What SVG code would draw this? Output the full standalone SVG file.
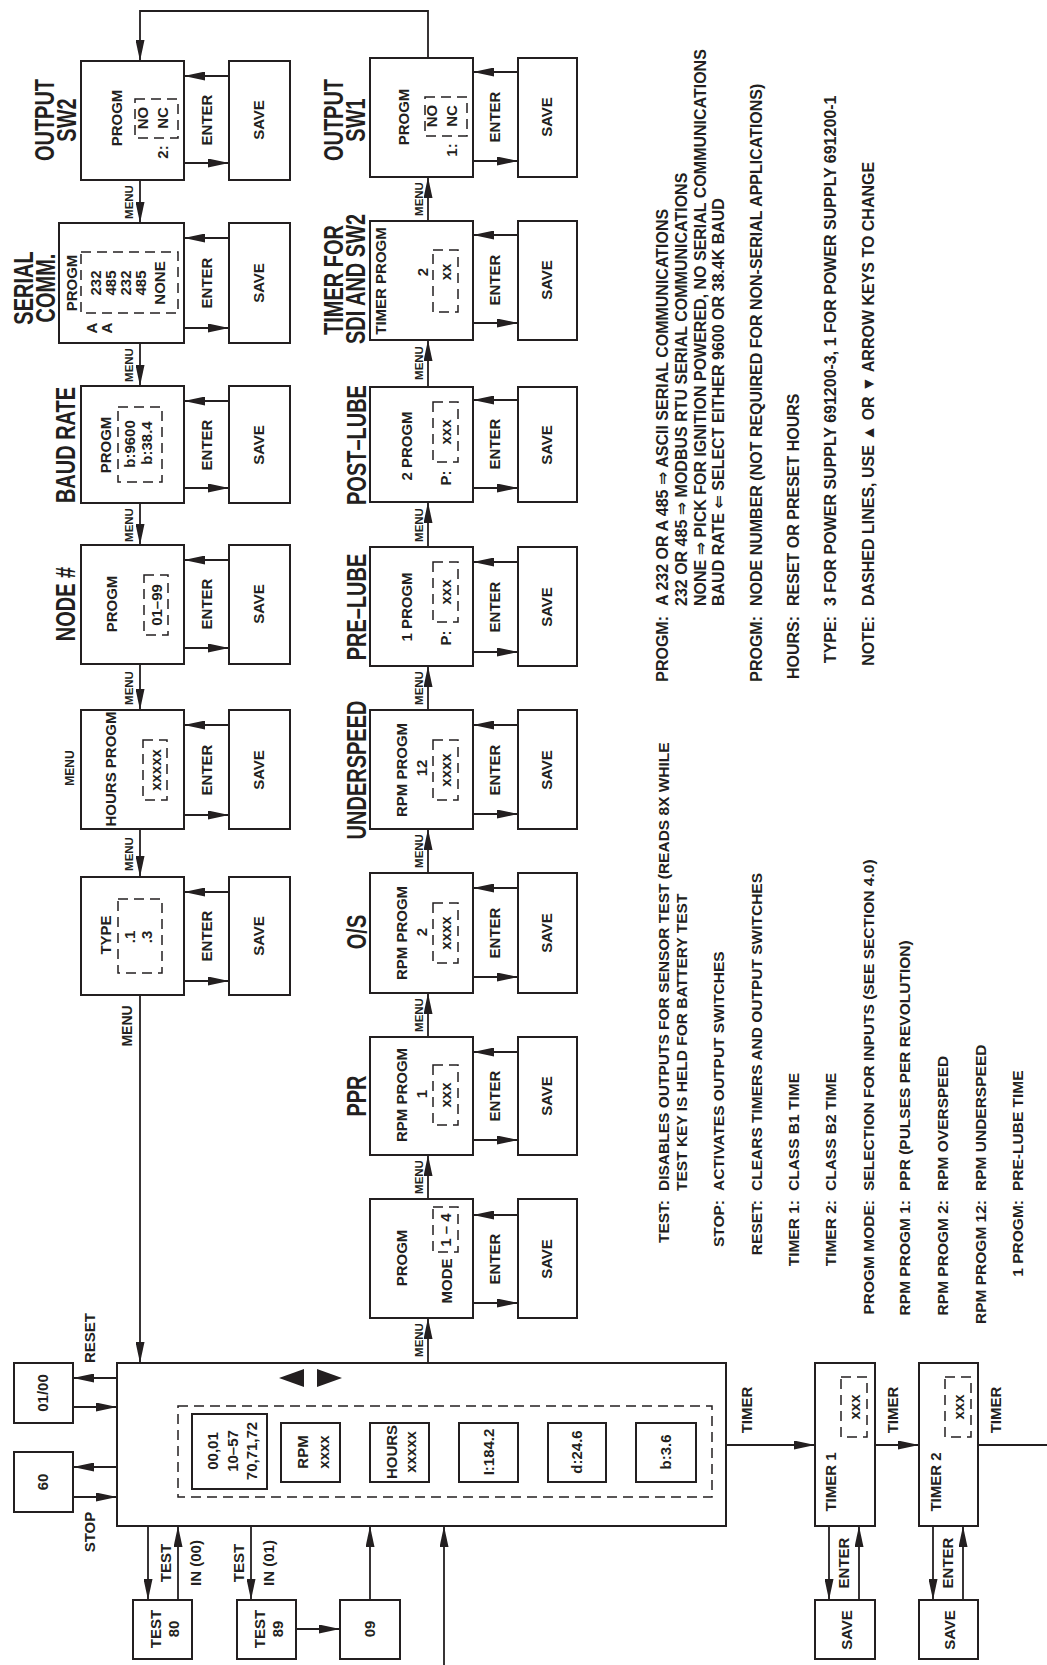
<svg xmlns="http://www.w3.org/2000/svg" width="1047" height="1665" viewBox="0 0 1047 1665">
<style>
.bx{fill:#fff;stroke:#231f20;stroke-width:2}
.ds{fill:none;stroke:#231f20;stroke-width:1.5;stroke-dasharray:10 6}
.ln{fill:none;stroke:#231f20;stroke-width:1.8}
.tri{fill:#231f20}
text{font-family:"Liberation Sans",Arial,"DejaVu Sans",sans-serif;font-weight:bold;fill:#231f20}
.m{font-size:15px;text-anchor:middle}
.s{font-size:11.5px;text-anchor:middle}
.h{font-size:27px;text-anchor:middle}
.n{font-size:15.5px}
.r{font-size:15.5px;text-anchor:end}
.nu{font-size:16px}
.ru{font-size:16px;text-anchor:end}
</style>
<defs>
<marker id="a" viewBox="0 0 21 9" refX="21" refY="4.5" markerWidth="21" markerHeight="9" markerUnits="userSpaceOnUse" orient="auto"><path d="M0,0L21,4.5L0,9z" fill="#231f20"/></marker>
</defs>
<rect width="1047" height="1665" fill="#fff"/>

<g id="connectors" class="ln">
<polyline points="428,58 428,11 140,11 140,61" marker-end="url(#a)"/>
<line x1="140" y1="180" x2="140" y2="223" marker-end="url(#a)"/>
<line x1="140" y1="343" x2="140" y2="386" marker-end="url(#a)"/>
<line x1="140" y1="503" x2="140" y2="545" marker-end="url(#a)"/>
<line x1="140" y1="664" x2="140" y2="710" marker-end="url(#a)"/>
<line x1="140" y1="829" x2="140" y2="877" marker-end="url(#a)"/>
<line x1="140" y1="995" x2="140" y2="1363" marker-end="url(#a)"/>
<line x1="428" y1="221" x2="428" y2="177" marker-end="url(#a)"/>
<line x1="428" y1="387" x2="428" y2="340" marker-end="url(#a)"/>
<line x1="428" y1="547" x2="428" y2="502" marker-end="url(#a)"/>
<line x1="428" y1="710" x2="428" y2="666" marker-end="url(#a)"/>
<line x1="428" y1="873" x2="428" y2="829" marker-end="url(#a)"/>
<line x1="428" y1="1037" x2="428" y2="993" marker-end="url(#a)"/>
<line x1="428" y1="1199" x2="428" y2="1155" marker-end="url(#a)"/>
<line x1="428" y1="1363" x2="428" y2="1318" marker-end="url(#a)"/>
<line x1="229" y1="76" x2="184" y2="76" marker-end="url(#a)"/>
<line x1="184" y1="163" x2="229" y2="163" marker-end="url(#a)"/>
<line x1="229" y1="238" x2="184" y2="238" marker-end="url(#a)"/>
<line x1="184" y1="328" x2="229" y2="328" marker-end="url(#a)"/>
<line x1="229" y1="401" x2="184" y2="401" marker-end="url(#a)"/>
<line x1="184" y1="488" x2="229" y2="488" marker-end="url(#a)"/>
<line x1="229" y1="560" x2="184" y2="560" marker-end="url(#a)"/>
<line x1="184" y1="648" x2="229" y2="648" marker-end="url(#a)"/>
<line x1="229" y1="725" x2="184" y2="725" marker-end="url(#a)"/>
<line x1="184" y1="815" x2="229" y2="815" marker-end="url(#a)"/>
<line x1="229" y1="892" x2="184" y2="892" marker-end="url(#a)"/>
<line x1="184" y1="981" x2="229" y2="981" marker-end="url(#a)"/>
<line x1="518" y1="72" x2="473" y2="72" marker-end="url(#a)"/>
<line x1="473" y1="161" x2="518" y2="161" marker-end="url(#a)"/>
<line x1="518" y1="235" x2="473" y2="235" marker-end="url(#a)"/>
<line x1="473" y1="323" x2="518" y2="323" marker-end="url(#a)"/>
<line x1="518" y1="400" x2="473" y2="400" marker-end="url(#a)"/>
<line x1="473" y1="488" x2="518" y2="488" marker-end="url(#a)"/>
<line x1="518" y1="562" x2="473" y2="562" marker-end="url(#a)"/>
<line x1="473" y1="652" x2="518" y2="652" marker-end="url(#a)"/>
<line x1="518" y1="725" x2="473" y2="725" marker-end="url(#a)"/>
<line x1="473" y1="814" x2="518" y2="814" marker-end="url(#a)"/>
<line x1="518" y1="888" x2="473" y2="888" marker-end="url(#a)"/>
<line x1="473" y1="977" x2="518" y2="977" marker-end="url(#a)"/>
<line x1="518" y1="1052" x2="473" y2="1052" marker-end="url(#a)"/>
<line x1="473" y1="1140" x2="518" y2="1140" marker-end="url(#a)"/>
<line x1="518" y1="1215" x2="473" y2="1215" marker-end="url(#a)"/>
<line x1="473" y1="1303" x2="518" y2="1303" marker-end="url(#a)"/>
<line x1="117" y1="1378" x2="73" y2="1378" marker-end="url(#a)"/>
<line x1="73" y1="1407" x2="117" y2="1407" marker-end="url(#a)"/>
<line x1="117" y1="1467" x2="73" y2="1467" marker-end="url(#a)"/>
<line x1="73" y1="1497" x2="117" y2="1497" marker-end="url(#a)"/>
<line x1="148" y1="1526" x2="148" y2="1600" marker-end="url(#a)"/>
<line x1="178" y1="1600" x2="178" y2="1526" marker-end="url(#a)"/>
<line x1="251" y1="1526" x2="251" y2="1600" marker-end="url(#a)"/>
<line x1="296" y1="1629" x2="340" y2="1629" marker-end="url(#a)"/>
<line x1="370" y1="1600" x2="370" y2="1526" marker-end="url(#a)"/>
<line x1="444" y1="1665" x2="444" y2="1526" marker-end="url(#a)"/>
<line x1="726" y1="1445" x2="815" y2="1445" marker-end="url(#a)"/>
<line x1="875" y1="1445" x2="919" y2="1445" marker-end="url(#a)"/>
<line x1="978" y1="1445" x2="1047" y2="1445"/>
<line x1="829" y1="1526" x2="829" y2="1600" marker-end="url(#a)"/>
<line x1="859" y1="1600" x2="859" y2="1526" marker-end="url(#a)"/>
<line x1="933" y1="1526" x2="933" y2="1600" marker-end="url(#a)"/>
<line x1="963" y1="1600" x2="963" y2="1526" marker-end="url(#a)"/>
</g>

<g id="connector-labels">
<text class="s" transform="translate(129,202) rotate(-90)" dy=".36em">MENU</text>
<text class="s" transform="translate(129,365) rotate(-90)" dy=".36em">MENU</text>
<text class="s" transform="translate(129,525) rotate(-90)" dy=".36em">MENU</text>
<text class="s" transform="translate(129,688) rotate(-90)" dy=".36em">MENU</text>
<text class="s" transform="translate(129,854) rotate(-90)" dy=".36em">MENU</text>
<text class="m" style="font-size:14px" transform="translate(127,1026) rotate(-90)" dy=".36em">MENU</text>
<text class="s" style="font-size:12px" transform="translate(70,768) rotate(-90)" dy=".36em">MENU</text>
<text class="s" transform="translate(419,199) rotate(-90)" dy=".36em">MENU</text>
<text class="s" transform="translate(419,363) rotate(-90)" dy=".36em">MENU</text>
<text class="s" transform="translate(419,525) rotate(-90)" dy=".36em">MENU</text>
<text class="s" transform="translate(419,688) rotate(-90)" dy=".36em">MENU</text>
<text class="s" transform="translate(419,851) rotate(-90)" dy=".36em">MENU</text>
<text class="s" transform="translate(419,1015) rotate(-90)" dy=".36em">MENU</text>
<text class="s" transform="translate(419,1177) rotate(-90)" dy=".36em">MENU</text>
<text class="s" transform="translate(419,1340) rotate(-90)" dy=".36em">MENU</text>
<text class="m" transform="translate(207,120) rotate(-90)" dy=".36em">ENTER</text>
<text class="m" transform="translate(207,283) rotate(-90)" dy=".36em">ENTER</text>
<text class="m" transform="translate(207,445) rotate(-90)" dy=".36em">ENTER</text>
<text class="m" transform="translate(207,604) rotate(-90)" dy=".36em">ENTER</text>
<text class="m" transform="translate(207,770) rotate(-90)" dy=".36em">ENTER</text>
<text class="m" transform="translate(207,936) rotate(-90)" dy=".36em">ENTER</text>
<text class="m" transform="translate(495,117) rotate(-90)" dy=".36em">ENTER</text>
<text class="m" transform="translate(495,280) rotate(-90)" dy=".36em">ENTER</text>
<text class="m" transform="translate(495,444) rotate(-90)" dy=".36em">ENTER</text>
<text class="m" transform="translate(495,607) rotate(-90)" dy=".36em">ENTER</text>
<text class="m" transform="translate(495,770) rotate(-90)" dy=".36em">ENTER</text>
<text class="m" transform="translate(495,933) rotate(-90)" dy=".36em">ENTER</text>
<text class="m" transform="translate(495,1096) rotate(-90)" dy=".36em">ENTER</text>
<text class="m" transform="translate(495,1259) rotate(-90)" dy=".36em">ENTER</text>
<text class="m" transform="translate(90,1338) rotate(-90)" dy=".36em">RESET</text>
<text class="m" transform="translate(90,1532) rotate(-90)" dy=".36em">STOP</text>
<text class="m" transform="translate(166,1563) rotate(-90)" dy=".36em">TEST</text>
<text class="m" transform="translate(196,1563) rotate(-90)" dy=".36em">IN (00)</text>
<text class="m" transform="translate(239,1563) rotate(-90)" dy=".36em">TEST</text>
<text class="m" transform="translate(269,1563) rotate(-90)" dy=".36em">IN (01)</text>
<text class="m" transform="translate(747,1410) rotate(-90)" dy=".36em">TIMER</text>
<text class="m" transform="translate(893,1410) rotate(-90)" dy=".36em">TIMER</text>
<text class="m" transform="translate(996,1410) rotate(-90)" dy=".36em">TIMER</text>
<text class="m" transform="translate(844,1563) rotate(-90)" dy=".36em">ENTER</text>
<text class="m" transform="translate(948,1563) rotate(-90)" dy=".36em">ENTER</text>
</g>

<g id="output-sw2">
<rect class="bx" x="81" y="61" width="103" height="119"/>
<text class="h" transform="translate(44,120) rotate(-90) scale(.74,1)" dy=".36em">OUTPUT</text>
<text class="h" transform="translate(66,120) rotate(-90) scale(.74,1)" dy=".36em">SW2</text>
<text class="m" transform="translate(117,118) rotate(-90)" dy=".36em">PROGM</text>
<rect class="ds" x="135" y="99" width="43" height="39"/>
<text class="m" transform="translate(143,118) rotate(-90)" dy=".36em">NO</text>
<text class="m" transform="translate(163,118) rotate(-90)" dy=".36em">NC</text>
<text class="m" transform="translate(163,152) rotate(-90)" dy=".36em">2:</text>
</g>
<g id="save-sw2"><rect class="bx" x="229" y="61" width="61" height="119"/><text class="m" transform="translate(259,120) rotate(-90)" dy=".36em">SAVE</text></g>

<g id="serial-comm">
<rect class="bx" x="59" y="223" width="125" height="120"/>
<text class="h" transform="translate(23,288) rotate(-90) scale(.74,1)" dy=".36em">SERIAL</text>
<text class="h" transform="translate(45,288) rotate(-90) scale(.74,1)" dy=".36em">COMM.</text>
<text class="m" transform="translate(72,283) rotate(-90)" dy=".36em">PROGM</text>
<rect class="ds" x="81" y="252" width="97" height="61"/>
<text class="m" transform="translate(96,283) rotate(-90)" dy=".36em">232</text>
<text class="m" transform="translate(111,283) rotate(-90)" dy=".36em">485</text>
<text class="m" transform="translate(126,283) rotate(-90)" dy=".36em">232</text>
<text class="m" transform="translate(141,283) rotate(-90)" dy=".36em">485</text>
<text class="m" transform="translate(160,283) rotate(-90)" dy=".36em">NONE</text>
<text class="m" transform="translate(92,328) rotate(-90)" dy=".36em">A</text>
<text class="m" transform="translate(107,328) rotate(-90)" dy=".36em">A</text>
</g>
<g id="save-serial"><rect class="bx" x="229" y="223" width="61" height="120"/><text class="m" transform="translate(259,283) rotate(-90)" dy=".36em">SAVE</text></g>

<g id="baud-rate">
<rect class="bx" x="81" y="386" width="103" height="117"/>
<text class="h" transform="translate(65,445) rotate(-90) scale(.74,1)" dy=".36em">BAUD RATE</text>
<text class="m" transform="translate(106,445) rotate(-90)" dy=".36em">PROGM</text>
<rect class="ds" x="118" y="407" width="44" height="75"/>
<text class="m" transform="translate(130,444) rotate(-90)" dy=".36em">b:9600</text>
<text class="m" transform="translate(147,443) rotate(-90)" dy=".36em">b:38.4</text>
</g>
<g id="save-baud"><rect class="bx" x="229" y="386" width="61" height="117"/><text class="m" transform="translate(259,445) rotate(-90)" dy=".36em">SAVE</text></g>

<g id="node-number">
<rect class="bx" x="81" y="545" width="103" height="119"/>
<text class="h" transform="translate(65,604) rotate(-90) scale(.74,1)" dy=".36em">NODE #</text>
<text class="m" transform="translate(112,604) rotate(-90)" dy=".36em">PROGM</text>
<rect class="ds" x="144" y="575" width="24" height="60"/>
<text class="m" transform="translate(157,605) rotate(-90)" dy=".36em">01–99</text>
</g>
<g id="save-node"><rect class="bx" x="229" y="545" width="61" height="119"/><text class="m" transform="translate(259,604) rotate(-90)" dy=".36em">SAVE</text></g>

<g id="hours-progm">
<rect class="bx" x="81" y="710" width="103" height="119"/>
<text class="m" transform="translate(111,769) rotate(-90)" dy=".36em">HOURS PROGM</text>
<rect class="ds" x="143" y="740" width="24" height="60"/>
<text class="m" transform="translate(156,770) rotate(-90)" dy=".36em">xxxxx</text>
</g>
<g id="save-hours"><rect class="bx" x="229" y="710" width="61" height="119"/><text class="m" transform="translate(259,770) rotate(-90)" dy=".36em">SAVE</text></g>

<g id="type">
<rect class="bx" x="81" y="877" width="103" height="118"/>
<text class="m" transform="translate(106,935) rotate(-90)" dy=".36em">TYPE</text>
<rect class="ds" x="118" y="899" width="44" height="74"/>
<text class="m" transform="translate(130,937) rotate(-90)" dy=".36em">.1</text>
<text class="m" transform="translate(147,937) rotate(-90)" dy=".36em">.3</text>
</g>
<g id="save-type"><rect class="bx" x="229" y="877" width="61" height="118"/><text class="m" transform="translate(259,936) rotate(-90)" dy=".36em">SAVE</text></g>

<g id="output-sw1">
<rect class="bx" x="370" y="58" width="103" height="119"/>
<text class="h" transform="translate(333,120) rotate(-90) scale(.74,1)" dy=".36em">OUTPUT</text>
<text class="h" transform="translate(355,120) rotate(-90) scale(.74,1)" dy=".36em">SW1</text>
<text class="m" transform="translate(404,117) rotate(-90)" dy=".36em">PROGM</text>
<rect class="ds" x="425" y="97" width="42" height="39"/>
<text class="m" transform="translate(432,116) rotate(-90)" dy=".36em">NO</text>
<text class="m" transform="translate(452,116) rotate(-90)" dy=".36em">NC</text>
<text class="m" transform="translate(452,150) rotate(-90)" dy=".36em">1:</text>
</g>
<g id="save-sw1"><rect class="bx" x="518" y="58" width="59" height="119"/><text class="m" transform="translate(547,117) rotate(-90)" dy=".36em">SAVE</text></g>

<g id="timer-sdi">
<rect class="bx" x="370" y="221" width="103" height="119"/>
<text class="h" transform="translate(333,280) rotate(-90) scale(.74,1)" dy=".36em">TIMER FOR</text>
<text class="h" transform="translate(355,279) rotate(-90) scale(.74,1)" dy=".36em">SDI AND SW2</text>
<text class="m" transform="translate(381,281) rotate(-90)" dy=".36em">TIMER PROGM</text>
<text class="m" transform="translate(423,272) rotate(-90)" dy=".36em">2</text>
<rect class="ds" x="433" y="250" width="25" height="62"/>
<text class="m" transform="translate(446,272) rotate(-90)" dy=".36em">xx</text>
</g>
<g id="save-timer-sdi"><rect class="bx" x="518" y="221" width="59" height="119"/><text class="m" transform="translate(547,280) rotate(-90)" dy=".36em">SAVE</text></g>

<g id="post-lube">
<rect class="bx" x="370" y="387" width="103" height="115"/>
<text class="h" transform="translate(356,445) rotate(-90) scale(.74,1)" dy=".36em">POST–LUBE</text>
<text class="m" transform="translate(407,446) rotate(-90)" dy=".36em">2 PROGM</text>
<rect class="ds" x="433" y="402" width="25" height="60"/>
<text class="m" transform="translate(446,432) rotate(-90)" dy=".36em">xxx</text>
<text class="m" transform="translate(446,478) rotate(-90)" dy=".36em">P:</text>
</g>
<g id="save-post-lube"><rect class="bx" x="518" y="387" width="59" height="115"/><text class="m" transform="translate(547,445) rotate(-90)" dy=".36em">SAVE</text></g>

<g id="pre-lube">
<rect class="bx" x="370" y="547" width="103" height="119"/>
<text class="h" transform="translate(356,607) rotate(-90) scale(.74,1)" dy=".36em">PRE–LUBE</text>
<text class="m" transform="translate(407,607) rotate(-90)" dy=".36em">1 PROGM</text>
<rect class="ds" x="433" y="562" width="25" height="60"/>
<text class="m" transform="translate(446,592) rotate(-90)" dy=".36em">xxx</text>
<text class="m" transform="translate(446,638) rotate(-90)" dy=".36em">P:</text>
</g>
<g id="save-pre-lube"><rect class="bx" x="518" y="547" width="59" height="119"/><text class="m" transform="translate(547,607) rotate(-90)" dy=".36em">SAVE</text></g>

<g id="underspeed">
<rect class="bx" x="370" y="710" width="103" height="119"/>
<text class="h" transform="translate(356,770) rotate(-90) scale(.74,1)" dy=".36em">UNDERSPEED</text>
<text class="m" transform="translate(402,770) rotate(-90)" dy=".36em">RPM PROGM</text>
<text class="m" transform="translate(422,768) rotate(-90)" dy=".36em">12</text>
<rect class="ds" x="433" y="740" width="25" height="60"/>
<text class="m" transform="translate(446,770) rotate(-90)" dy=".36em">xxxx</text>
</g>
<g id="save-underspeed"><rect class="bx" x="518" y="710" width="59" height="119"/><text class="m" transform="translate(547,770) rotate(-90)" dy=".36em">SAVE</text></g>

<g id="overspeed">
<rect class="bx" x="370" y="873" width="103" height="120"/>
<text class="h" transform="translate(356,932) rotate(-90) scale(.74,1)" dy=".36em">O/S</text>
<text class="m" transform="translate(402,933) rotate(-90)" dy=".36em">RPM PROGM</text>
<text class="m" transform="translate(422,932) rotate(-90)" dy=".36em">2</text>
<rect class="ds" x="433" y="903" width="25" height="60"/>
<text class="m" transform="translate(446,933) rotate(-90)" dy=".36em">xxxx</text>
</g>
<g id="save-overspeed"><rect class="bx" x="518" y="873" width="59" height="120"/><text class="m" transform="translate(547,933) rotate(-90)" dy=".36em">SAVE</text></g>

<g id="ppr">
<rect class="bx" x="370" y="1037" width="103" height="118"/>
<text class="h" transform="translate(356,1096) rotate(-90) scale(.74,1)" dy=".36em">PPR</text>
<text class="m" transform="translate(402,1095) rotate(-90)" dy=".36em">RPM PROGM</text>
<text class="m" transform="translate(422,1094) rotate(-90)" dy=".36em">1</text>
<rect class="ds" x="433" y="1065" width="25" height="60"/>
<text class="m" transform="translate(446,1095) rotate(-90)" dy=".36em">xxx</text>
</g>
<g id="save-ppr"><rect class="bx" x="518" y="1037" width="59" height="118"/><text class="m" transform="translate(547,1096) rotate(-90)" dy=".36em">SAVE</text></g>

<g id="progm-mode">
<rect class="bx" x="370" y="1199" width="103" height="119"/>
<text class="m" transform="translate(402,1258) rotate(-90)" dy=".36em">PROGM</text>
<text class="m" transform="translate(447,1281) rotate(-90)" dy=".36em">MODE</text>
<rect class="ds" x="433" y="1207" width="25" height="45"/>
<text class="m" transform="translate(446,1230) rotate(-90)" dy=".36em">1 – 4</text>
</g>
<g id="save-progm-mode"><rect class="bx" x="518" y="1199" width="59" height="119"/><text class="m" transform="translate(547,1259) rotate(-90)" dy=".36em">SAVE</text></g>

<g id="main-display">
<rect class="bx" x="117" y="1363" width="609" height="163"/>
<polygon class="tri" points="279,1378 304,1369 304,1387"/>
<polygon class="tri" points="342,1378 317,1369 317,1387"/>
<rect class="ds" x="178" y="1406" width="534" height="91"/>
<rect class="bx" x="192" y="1414" width="75" height="75"/>
<text class="m" transform="translate(213,1451) rotate(-90)" dy=".36em">00,01</text>
<text class="m" transform="translate(233,1451) rotate(-90)" dy=".36em">10–57</text>
<text class="m" transform="translate(252,1451) rotate(-90)" dy=".36em">70,71,72</text>
<rect class="bx" x="281" y="1423" width="59" height="59"/>
<text class="m" transform="translate(303,1452) rotate(-90)" dy=".36em">RPM</text>
<text class="m" transform="translate(324,1452) rotate(-90)" dy=".36em">xxxx</text>
<rect class="bx" x="370" y="1423" width="59" height="59"/>
<text class="m" transform="translate(392,1452) rotate(-90)" dy=".36em">HOURS</text>
<text class="m" transform="translate(411,1452) rotate(-90)" dy=".36em">xxxxx</text>
<rect class="bx" x="459" y="1423" width="59" height="59"/>
<text class="m" transform="translate(489,1452) rotate(-90)" dy=".36em">I:184.2</text>
<rect class="bx" x="548" y="1423" width="58" height="59"/>
<text class="m" transform="translate(577,1452) rotate(-90)" dy=".36em">d:24.6</text>
<rect class="bx" x="636" y="1423" width="60" height="59"/>
<text class="m" transform="translate(666,1452) rotate(-90)" dy=".36em">b:3.6</text>
</g>

<g id="reset-box"><rect class="bx" x="14" y="1363" width="59" height="60"/><text class="m" transform="translate(43,1393) rotate(-90)" dy=".36em">01/00</text></g>
<g id="stop-box"><rect class="bx" x="14" y="1452" width="59" height="60"/><text class="m" transform="translate(43,1482) rotate(-90)" dy=".36em">60</text></g>
<g id="test-80"><rect class="bx" x="133" y="1600" width="59" height="59"/><text class="m" transform="translate(156,1629) rotate(-90)" dy=".36em">TEST</text><text class="m" transform="translate(174,1629) rotate(-90)" dy=".36em">80</text></g>
<g id="test-89"><rect class="bx" x="237" y="1600" width="59" height="59"/><text class="m" transform="translate(260,1629) rotate(-90)" dy=".36em">TEST</text><text class="m" transform="translate(278,1629) rotate(-90)" dy=".36em">89</text></g>
<g id="box-09"><rect class="bx" x="340" y="1600" width="60" height="59"/><text class="m" transform="translate(370,1629) rotate(-90)" dy=".36em">09</text></g>

<g id="timer-1">
<rect class="bx" x="815" y="1363" width="60" height="163"/>
<text class="m" transform="translate(831,1482) rotate(-90)" dy=".36em">TIMER 1</text>
<rect class="ds" x="841" y="1377" width="26" height="60"/>
<text class="m" transform="translate(855,1407) rotate(-90)" dy=".36em">xxx</text>
</g>
<g id="save-timer-1"><rect class="bx" x="815" y="1600" width="60" height="59"/><text class="m" transform="translate(847,1630) rotate(-90)" dy=".36em">SAVE</text></g>
<g id="timer-2">
<rect class="bx" x="919" y="1363" width="59" height="163"/>
<text class="m" transform="translate(936,1482) rotate(-90)" dy=".36em">TIMER 2</text>
<rect class="ds" x="945" y="1377" width="26" height="60"/>
<text class="m" transform="translate(959,1407) rotate(-90)" dy=".36em">xxx</text>
</g>
<g id="save-timer-2"><rect class="bx" x="919" y="1600" width="59" height="59"/><text class="m" transform="translate(950,1630) rotate(-90)" dy=".36em">SAVE</text></g>

<g id="notes-upper">
<text class="ru" transform="translate(662,616) rotate(-90)" dy=".36em">PROGM:</text>
<text class="nu" transform="translate(662,606) rotate(-90)" dy=".36em">A 232 OR A 485 ⇒ ASCII SERIAL COMMUNICATIONS</text>
<text class="nu" transform="translate(681,606) rotate(-90)" dy=".36em">232 OR 485 ⇒ MODBUS RTU SERIAL COMMUNICATIONS</text>
<text class="nu" transform="translate(700,606) rotate(-90)" dy=".36em">NONE ⇒ PICK FOR IGNITION POWERED, NO SERIAL COMMUNICATIONS</text>
<text class="nu" transform="translate(718,606) rotate(-90)" dy=".36em">BAUD RATE ⇐ SELECT EITHER 9600 OR 38.4K BAUD</text>
<text class="ru" transform="translate(756,616) rotate(-90)" dy=".36em">PROGM:</text>
<text class="nu" transform="translate(756,606) rotate(-90)" dy=".36em">NODE NUMBER (NOT REQUIRED FOR NON-SERIAL APPLICATIONS)</text>
<text class="ru" transform="translate(793,616) rotate(-90)" dy=".36em">HOURS:</text>
<text class="nu" transform="translate(793,606) rotate(-90)" dy=".36em">RESET OR PRESET HOURS</text>
<text class="ru" transform="translate(830,616) rotate(-90)" dy=".36em">TYPE:</text>
<text class="nu" transform="translate(830,606) rotate(-90)" dy=".36em">3 FOR POWER SUPPLY 691200-3, 1 FOR POWER SUPPLY 691200-1</text>
<text class="ru" transform="translate(868,616) rotate(-90)" dy=".36em">NOTE:</text>
<text class="nu" transform="translate(868,606) rotate(-90)" dy=".36em">DASHED LINES, USE ▲ OR ▼ ARROW KEYS TO CHANGE</text>
</g>
<g id="notes-lower">
<text class="r" transform="translate(663,1200) rotate(-90)" dy=".36em">TEST:</text>
<text class="n" transform="translate(663,1191) rotate(-90)" dy=".36em">DISABLES OUTPUTS FOR SENSOR TEST (READS 8X WHILE</text>
<text class="n" transform="translate(681,1191) rotate(-90)" dy=".36em">TEST KEY IS HELD FOR BATTERY TEST</text>
<text class="r" transform="translate(718,1200) rotate(-90)" dy=".36em">STOP:</text>
<text class="n" transform="translate(718,1191) rotate(-90)" dy=".36em">ACTIVATES OUTPUT SWITCHES</text>
<text class="r" transform="translate(756,1200) rotate(-90)" dy=".36em">RESET:</text>
<text class="n" transform="translate(756,1191) rotate(-90)" dy=".36em">CLEARS TIMERS AND OUTPUT SWITCHES</text>
<text class="r" transform="translate(793,1200) rotate(-90)" dy=".36em">TIMER 1:</text>
<text class="n" transform="translate(793,1191) rotate(-90)" dy=".36em">CLASS B1 TIME</text>
<text class="r" transform="translate(830,1200) rotate(-90)" dy=".36em">TIMER 2:</text>
<text class="n" transform="translate(830,1191) rotate(-90)" dy=".36em">CLASS B2 TIME</text>
<text class="r" transform="translate(868,1200) rotate(-90)" dy=".36em">PROGM MODE:</text>
<text class="n" transform="translate(868,1191) rotate(-90)" dy=".36em">SELECTION FOR INPUTS (SEE SECTION 4.0)</text>
<text class="r" transform="translate(904,1200) rotate(-90)" dy=".36em">RPM PROGM 1:</text>
<text class="n" transform="translate(904,1191) rotate(-90)" dy=".36em">PPR (PULSES PER REVOLUTION)</text>
<text class="r" transform="translate(942,1200) rotate(-90)" dy=".36em">RPM PROGM 2:</text>
<text class="n" transform="translate(942,1191) rotate(-90)" dy=".36em">RPM OVERSPEED</text>
<text class="r" transform="translate(980,1200) rotate(-90)" dy=".36em">RPM PROGM 12:</text>
<text class="n" transform="translate(980,1191) rotate(-90)" dy=".36em">RPM UNDERSPEED</text>
<text class="r" transform="translate(1017,1200) rotate(-90)" dy=".36em">1 PROGM:</text>
<text class="n" transform="translate(1017,1191) rotate(-90)" dy=".36em">PRE-LUBE TIME</text>
</g>
</svg>
